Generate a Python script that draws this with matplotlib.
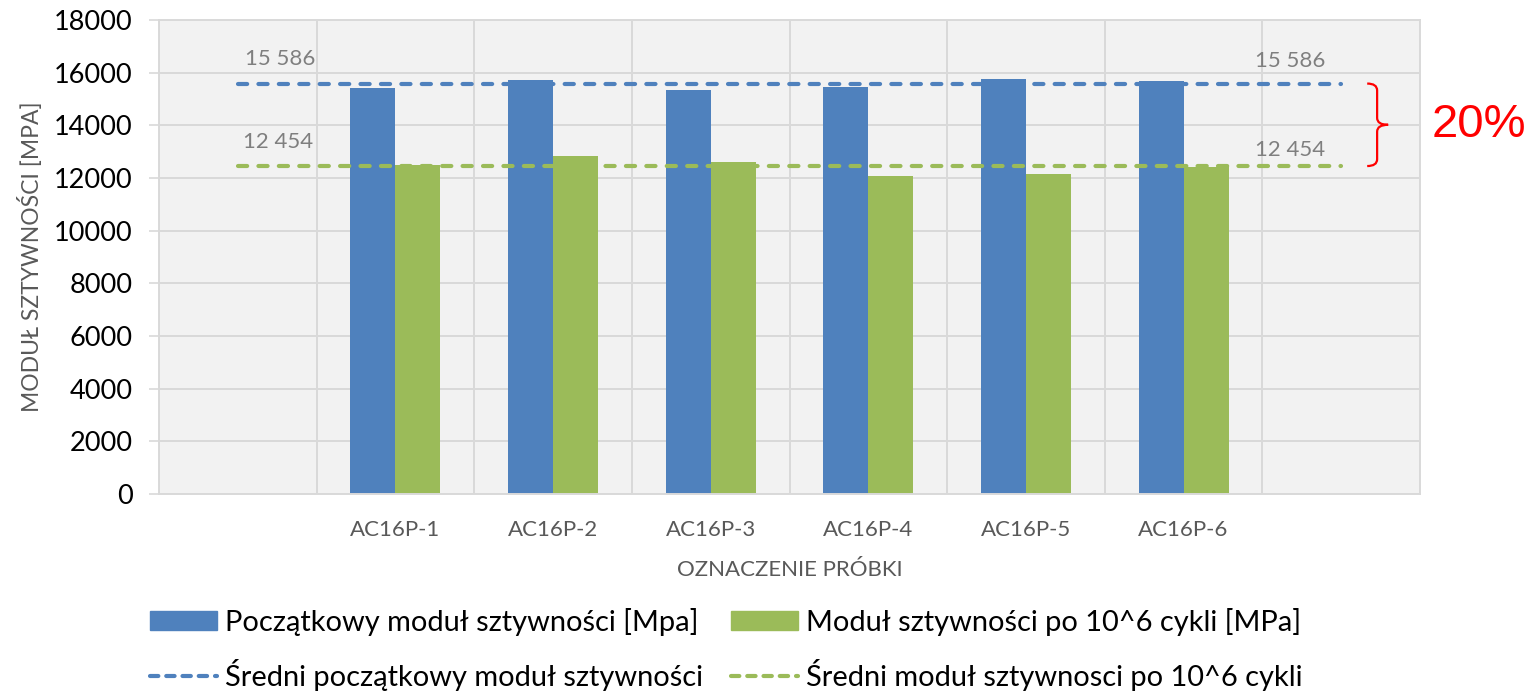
import matplotlib
matplotlib.use("Agg")
import matplotlib.pyplot as plt
from matplotlib.patches import Patch, PathPatch
from matplotlib.lines import Line2D
from matplotlib.path import Path
import numpy as np

plt.rcParams['font.family'] = ['Lato', 'DejaVu Sans']

# sample names (first and last slot stay empty on the axis)
samples = ["", "AC16P-1", "AC16P-2", "AC16P-3", "AC16P-4", "AC16P-5", "AC16P-6", ""]
# stiffness modulus [MPa]
modul_poczatkowy = [15400, 15720, 15340, 15470, 15760, 15700]
modul_po_cyklach = [12490, 12850, 12620, 12090, 12160, 12430]
sredni_poczatkowy = 15586
sredni_po_cyklach = 12454
spadek_label = "20%"

BLUE = "#4F81BD"
GREEN = "#9BBB59"
GRID = "#D9D9D9"

fig = plt.figure(figsize=(15.4, 6.92), dpi=100)
ax = fig.add_axes([159 / 1540, 1 - 494 / 692, (1420 - 159) / 1540, (494 - 20) / 692])
ax.set_facecolor("#F2F2F2")

x = np.arange(len(samples))
bar_x = x[1:-1]
w = 0.2855
ax.bar(bar_x - w / 2, modul_poczatkowy, width=w, color=BLUE, zorder=2)
ax.bar(bar_x + w / 2, modul_po_cyklach, width=w, color=GREEN, zorder=2)

# averages drawn across the whole category range
for val, col in [(sredni_poczatkowy, BLUE), (sredni_po_cyklach, GREEN)]:
    ax.plot([x[0], x[-1]], [val, val], color=col, lw=3, ls=(0, (2.2, 2.7)),
            dash_capstyle="round", zorder=3)

lbl = lambda v: f"{v:,}".replace(",", " ")
ax.annotate(lbl(sredni_poczatkowy), (0.046, sredni_poczatkowy), xytext=(0, 18),
            textcoords="offset points", ha="left", va="center", fontsize=16, color="#7F7F7F")
ax.annotate(lbl(sredni_poczatkowy), (6.9, sredni_poczatkowy), xytext=(0, 16),
            textcoords="offset points", ha="right", va="center", fontsize=16, color="#7F7F7F")
ax.annotate(lbl(sredni_po_cyklach), (0.03, sredni_po_cyklach), xytext=(0, 17.5),
            textcoords="offset points", ha="left", va="center", fontsize=16, color="#7F7F7F")
ax.annotate(lbl(sredni_po_cyklach), (6.9, sredni_po_cyklach), xytext=(0, 11.5),
            textcoords="offset points", ha="right", va="center", fontsize=16, color="#7F7F7F")

# red brace between the two averages
top, bot = sredni_poczatkowy, sredni_po_cyklach
mid = (top + bot) / 2
x0, x1, x2 = 7.165, 7.228, 7.298
r = 260
verts = [(x0, top), (x1, top), (x1, top - r), (x1, mid + r), (x1, mid), (x2, mid),
         (x2, mid), (x1, mid), (x1, mid - r), (x1, bot + r), (x1, bot), (x0, bot)]
codes = [Path.MOVETO, Path.CURVE3, Path.CURVE3, Path.LINETO, Path.CURVE3, Path.CURVE3,
         Path.MOVETO, Path.CURVE3, Path.CURVE3, Path.LINETO, Path.CURVE3, Path.CURVE3]
ax.add_patch(PathPatch(Path(verts, codes), fill=False, edgecolor="red", lw=1.6,
                       zorder=4, clip_on=False))
fig.text(1479 / 1540, 1 - 125 / 692, spadek_label, color="red", fontsize=34,
         family="Liberation Sans", ha="center", va="center")

ax.set_xlim(-0.5, len(samples) - 0.5)
ax.set_ylim(0, 18000)
ax.set_yticks(np.arange(0, 18001, 2000))
ax.set_xticks(x)
ax.set_xticklabels(samples, fontsize=16, color="#595959")
ax.set_xticks(np.arange(-0.5, len(samples), 1), minor=True)
ax.tick_params(axis="x", which="both", length=0, pad=19)
ax.tick_params(axis="y", length=7, color=GRID, width=1.2, pad=12, labelsize=19.5)
ax.grid(axis="y", color=GRID, lw=1.4, zorder=0)
ax.grid(axis="x", which="minor", color=GRID, lw=1.4, zorder=0)
ax.set_axisbelow(True)
for s in ax.spines.values():
    s.set_color(GRID)
    s.set_linewidth(1.4)

ax.set_xlabel("OZNACZENIE PRÓBKI", fontsize=16, color="#595959", labelpad=14)
ax.set_ylabel("MODUŁ SZTYWNOŚCI [MPA]", fontsize=16.5, color="#595959", labelpad=8)

handles = [Patch(color=BLUE),
           Line2D([], [], color=BLUE, lw=3, ls=(0, (2.0, 1.9)), dash_capstyle="round"),
           Patch(color=GREEN),
           Line2D([], [], color=GREEN, lw=3, ls=(0, (2.0, 1.9)), dash_capstyle="round")]
labels = ["Początkowy moduł sztywności [Mpa]", "Średni początkowy moduł sztywności",
          "Moduł sztywności po 10^6 cykli [MPa]", "Średni moduł sztywnosci po 10^6 cykli"]
fig.legend(handles, labels, ncol=2, loc="center left",
           bbox_to_anchor=(150 / 1540, 1 - 649.5 / 692), frameon=False,
           fontsize=20.9, borderpad=0, borderaxespad=0, handlelength=2.3,
           handleheight=0.67, handletextpad=0.27, columnspacing=0.98, labelspacing=0.82)

fig.savefig("out.png", dpi=100, facecolor="white")
